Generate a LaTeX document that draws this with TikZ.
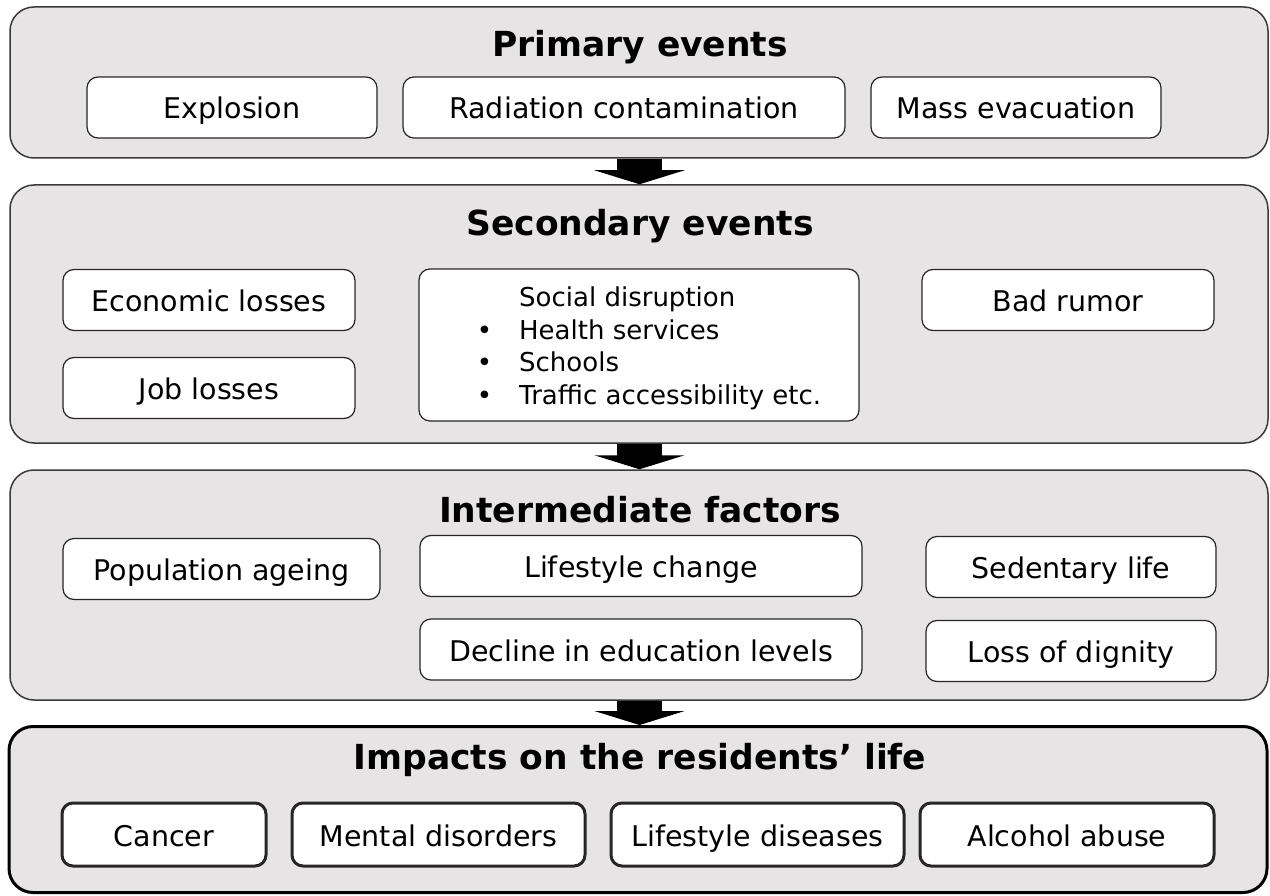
\documentclass[tikz,border=0pt]{standalone}
\usepackage{fontspec}
\setmainfont{DejaVu Sans}
\usetikzlibrary{arrows.meta}
\definecolor{panelgray}{HTML}{E6E4E5}
\definecolor{edgegray}{HTML}{3A3A3A}
\begin{document}
\begin{tikzpicture}[x=1pt,y=-1pt,line join=round,
		panel/.style={draw=edgegray,line width=1.5pt,fill=panelgray,rounded corners=24pt,minimum width=1258pt,inner sep=0pt},
		heading/.style={font=\fontsize{34.5}{40}\selectfont\bfseries,text height=31pt,text depth=7pt},
		item/.style={draw=black!85,line width=1.2pt,fill=white,rounded corners=11pt,minimum height=61pt,inner sep=0pt,
			font=\fontsize{28.5}{33}\selectfont,text height=29pt,text depth=6pt},
		thick item/.style={item,line width=3pt},
		blockarrow/.style={line width=45pt,-{Triangle[length=14pt,width=90pt]}}]
	\useasboundingbox[fill=white] (0,0) rectangle (1270,896);
	% panels
	\node[panel,minimum height=151pt] (prim) at (639,82.5) {};
	\node[panel,minimum height=258pt] (seco) at (639,314) {};
	\node[panel,minimum height=230pt] (inte) at (639,585) {};
	\node[panel,line width=3pt,draw=black,minimum height=166pt,minimum width=1258pt] (impa) at (638,809.5) {};
	% headings
	\node[heading] (primt) at (640,45) {Primary events};
	\node[heading] (secot) at (640,224) {Secondary events};
	\node[heading] (intet) at (640,510) {Intermediate factors};
	\node[heading] (impat) at (640,757) {Impacts on the residents’ life};
	% primary events
	\node[item,minimum width=290pt] (expl) at (232,107.5) {Explosion};
	\node[item,minimum width=442pt] (radc) at (624,107.5) {Radiation contamination};
	\node[item,minimum width=290pt] (mass) at (1016,107.5) {Mass evacuation};
	% secondary events
	\node[item,minimum width=292pt] (econ) at (209,300) {Economic losses};
	\node[item,minimum width=292pt] (jobl) at (209,388) {Job losses};
	\node[item,minimum width=440pt,minimum height=152pt] (socd) at (639,345) {};
	\node[inner sep=0pt,font=\fontsize{26}{32.7}\selectfont] (socdtxt) at (649,349) {%
		\begin{tabular}{@{}l@{\hspace{27pt}}l@{}}
			& Social disruption\\
			\textbullet & Health services\\
			\textbullet & Schools\\
			\textbullet & Traffic accessibility etc.
		\end{tabular}};
	\node[item,minimum width=292pt] (badr) at (1068,300) {Bad rumor};
	% intermediate factors
	\node[item,minimum width=317pt] (popa) at (221.5,569) {Population ageing};
	\node[item,minimum width=442pt] (lsch) at (641,566) {Lifestyle change};
	\node[item,minimum width=290pt] (sede) at (1071,567) {Sedentary life};
	\node[item,minimum width=442pt] (decl) at (641,649.5) {Decline in education levels};
	\node[item,minimum width=290pt] (loss) at (1071,651) {Loss of dignity};
	% impacts
	\node[thick item,minimum width=204pt,minimum height=63pt] (canc) at (164,834.5) {Cancer};
	\node[thick item,minimum width=293pt,minimum height=63pt] (ment) at (438.5,834.5) {Mental disorders};
	\node[thick item,minimum width=293pt,minimum height=63pt] (lsdi) at (757.5,834.5) {Lifestyle diseases};
	\node[thick item,minimum width=294pt,minimum height=63pt] (alco) at (1067,834.5) {Alcohol abuse};
	% arrows
	\foreach \a/\b in {prim/seco,seco/inte,inte/impa}{
		\draw[blockarrow] (\a.south-|639.5,0) -- (\b.north-|639.5,0);
	}
\end{tikzpicture}
\end{document}
